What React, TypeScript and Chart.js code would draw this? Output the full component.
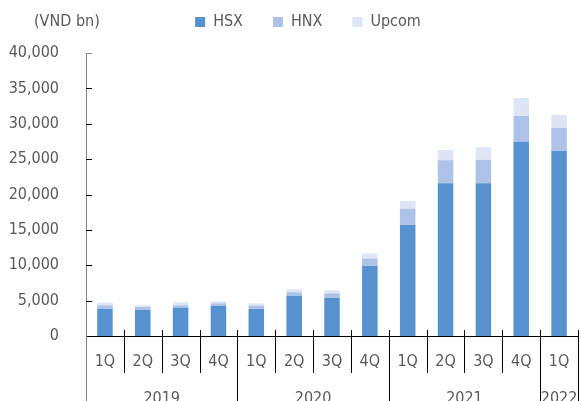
import React, { useEffect, useRef } from 'react';
import { Chart, registerables } from 'chart.js';

Chart.register(...registerables);

// ---- data ----
const quarters = ['1Q', '2Q', '3Q', '4Q', '1Q', '2Q', '3Q', '4Q', '1Q', '2Q', '3Q', '4Q', '1Q'];
const years = ['2019', '2020', '2021', '2022'];
const quartersPerYear = [4, 4, 4, 1];
const hsx = [3820, 3680, 4000, 4240, 3820, 5660, 5370, 9900, 15700, 21600, 21600, 27450, 26200];
const hnx = [520, 420, 340, 380, 480, 520, 670, 1050, 2300, 3250, 3300, 3650, 3200];
const upcom = [380, 240, 430, 280, 320, 420, 420, 700, 1050, 1450, 1800, 2550, 1850];
const seriesNames = ['HSX', 'HNX', 'Upcom'];
const unitLabel = '(VND bn)';
const yMax = 40000;
const yStep = 5000;

// ---- style ----
const FONT = '"DejaVu Sans Condensed", "DejaVu Sans", sans-serif';
const TEXT = '#595959';
const COLORS = ['#5592cf', '#acc2e6', '#dee6f6'];
const AXIS_GRAY = '#868686';

const decor = {
  id: 'decor',
  beforeInit(chart: any) {
    const lg = chart.legend;
    if (lg) {
      const orig = lg.fit.bind(lg);
      lg.fit = function () {
        orig();
        this.height = 69;
      };
    }
  },
  afterLayout(chart: any) {
    const lg = chart.legend;
    if (lg) {
      lg.left += 19;
      lg.right += 19;
    }
  },
  afterDraw(chart: any) {
    const { ctx, chartArea, scales } = chart;
    const x = scales.x;
    const y = scales.y;
    ctx.save();
    ctx.font = `16px ${FONT}`;
    ctx.fillStyle = TEXT;
    ctx.textAlign = 'left';
    ctx.textBaseline = 'middle';
    ctx.fillText(unitLabel, 34, 22);

    // inner y ticks
    ctx.lineWidth = 1;
    y.ticks.forEach((t: any) => {
      const py = Math.round(y.getPixelForValue(t.value)) + 0.5;
      ctx.strokeStyle = t.value === yMax ? AXIS_GRAY : '#000';
      ctx.beginPath();
      ctx.moveTo(chartArea.left, py);
      ctx.lineTo(chartArea.left + 6, py);
      ctx.stroke();
    });

    // category separators
    const n = quarters.length;
    const half = (x.getPixelForValue(1) - x.getPixelForValue(0)) / 2;
    const yearBounds = new Set<number>();
    let acc = 0;
    yearBounds.add(0);
    quartersPerYear.forEach((q) => {
      acc += q;
      yearBounds.add(acc);
    });
    for (let i = 0; i <= n; i++) {
      const raw = i === n ? x.getPixelForValue(n - 1) + half : x.getPixelForValue(i) - half;
      const px = Math.round(raw) + 0.5;
      const isYear = yearBounds.has(i);
      ctx.strokeStyle = i === 0 ? AXIS_GRAY : '#000';
      ctx.beginPath();
      ctx.moveTo(px, i === 0 ? chartArea.bottom : chartArea.bottom - 6);
      ctx.lineTo(px, isYear ? chart.height : chartArea.bottom + 37);
      ctx.stroke();
    }

    // year labels
    ctx.textAlign = 'center';
    ctx.fillStyle = TEXT;
    let start = 0;
    years.forEach((yr, k) => {
      const end = start + quartersPerYear[k] - 1;
      const cx = (x.getPixelForValue(start) + x.getPixelForValue(end)) / 2;
      ctx.fillText(yr, cx, 399);
      start = end + 1;
    });
    ctx.restore();
  },
};

export default function App() {
  const ref = useRef<HTMLCanvasElement | null>(null);
  useEffect(() => {
    if (!ref.current) return;
    const chart = new Chart(ref.current, {
      type: 'bar',
      data: {
        labels: quarters,
        datasets: [hsx, hnx, upcom].map((d, i) => ({
          label: seriesNames[i],
          data: d,
          backgroundColor: COLORS[i],
          borderWidth: 0,
          barPercentage: 0.41,
          categoryPercentage: 1,
        })),
      },
      options: {
        responsive: false,
        animation: false,
        devicePixelRatio: 1,
        layout: { padding: { top: -16, left: 0, right: 2, bottom: 0 } },
        plugins: {
          legend: {
            position: 'top',
            labels: {
              boxWidth: 10,
              boxHeight: 10,
              padding: 30,
              color: TEXT,
              font: { family: FONT, size: 16 },
            },
          },
          tooltip: { enabled: false },
          title: { display: false },
        },
        scales: {
          x: {
            stacked: true,
            grid: { display: false },
            border: { display: true, color: '#000', width: 1 },
            ticks: { color: TEXT, font: { family: FONT, size: 16 }, padding: 8, maxRotation: 0, autoSkip: false },
            afterFit: (s: any) => {
              s.height = 65;
            },
          },
          y: {
            stacked: true,
            min: 0,
            max: yMax,
            grid: { display: false },
            border: { display: true, color: AXIS_GRAY, width: 1 },
            ticks: {
              stepSize: yStep,
              color: TEXT,
              font: { family: FONT, size: 16 },
              padding: 19,
              callback: (v: any) => Number(v).toLocaleString('en-US'),
            },
            afterFit: (s: any) => {
              s.width = 86;
            },
          },
        },
      },
      plugins: [decor],
    } as any);
    return () => chart.destroy();
  }, []);
  return (
    <div style={{ position: 'absolute', left: 0, top: 0, width: 580, height: 401, background: '#fff' }}>
      <canvas ref={ref} width={580} height={401} style={{ display: 'block' }} />
    </div>
  );
}
